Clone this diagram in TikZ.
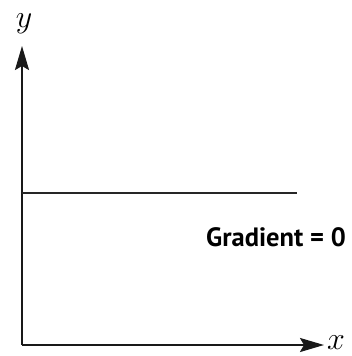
\RequirePackage{fix-cm}
\documentclass[tikz,border=0pt]{standalone}
\usepackage{fontspec}
\newfontfamily\labfont{PT Sans}
\usetikzlibrary{arrows.meta}
\tikzset{
  axis/.style={line width=2.2pt, draw=black!90, -{Stealth[length=24pt,width=14pt,inset=4pt]}},
  flat/.style={line width=2.2pt, draw=black!85},
  axlabel/.style={inner sep=0pt, font=\fontsize{32}{32}\selectfont},
  gradlabel/.style={inner sep=0pt, font=\labfont\bfseries\fontsize{26.5}{26.5}\selectfont}
}
\begin{document}
\begin{tikzpicture}[x=1pt,y=-1pt]
\useasboundingbox (0,0) rectangle (351,356);
\coordinate (O) at (22,345);
\coordinate (ytip) at (22,46);
\coordinate (xtip) at (324,345);
\coordinate (L1) at (22,193);
\coordinate (L2) at (297,193);
\draw[axis] (O) -- (ytip);
\draw[axis] (O) -- (xtip);
\draw[flat] (L1) -- (L2);
\node[axlabel] (ylab) at (24,24) {$y$};
\node[axlabel] (xlab) at (336,343) {$x$};
\node[gradlabel] (grad) at (276,237) {Gradient = 0};
\end{tikzpicture}
\end{document}
